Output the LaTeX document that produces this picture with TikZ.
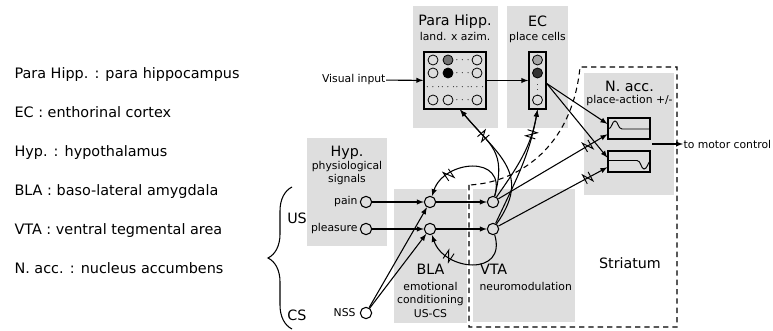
\documentclass[tikz,border=0pt]{standalone}
\usepackage{fontspec}
\setmainfont{DejaVu Sans}
\usepackage{tikz}
\usetikzlibrary{shapes,arrows,calc}
\usetikzlibrary{decorations.markings,decorations.pathreplacing}
\tikzset{
	area/.style     = {fill=black!13, draw=none},
	neuron/.style   = {draw, circle, minimum size=8.5pt, inner sep=0pt},
	cell/.style     = {draw, line width=0.6pt, circle, minimum size=7.5pt, inner sep=0pt},
	matbox/.style   = {draw, line width=1.1pt, rectangle, inner sep=0pt, minimum height=42.75pt},
	curvebox/.style = {draw, line width=0.9pt, rectangle, inner sep=0pt,
		minimum width=31.5pt, minimum height=15.75pt},
	title/.style    = {inner sep=0pt, anchor=base, font=\fontsize{10.7}{12}\selectfont},
	sub/.style      = {inner sep=0pt, font=\fontsize{8.1}{10}\selectfont},
	legend/.style   = {inner sep=0pt, anchor=base west, font=\fontsize{10.8}{13}\selectfont},
	dotz/.style     = {inner sep=0pt, font=\fontsize{7}{7}\selectfont},
	modul/.style    = {postaction={decorate}, decoration={markings,
		mark=at position #1 with {\draw[-, solid, line width=0.7pt]
			(-2.4pt,-3.8pt) -- (-2.4pt,3.8pt) -- (2.4pt,-3.8pt) -- (2.4pt,3.8pt);}}},
	modul/.default  = 0.5
}
\newcommand{\celldots}{$\cdot\cdot\cdot$}

\begin{document}
\begin{tikzpicture}[>=latex, x=0.75pt, y=0.75pt, line width=0.8pt]
	\useasboundingbox (0,0) rectangle (773,-331);
	
	% shaded areas
	\fill[area] (413,-6) rectangle (498,-128);
	\fill[area] (507,-6) rectangle (568,-128);
	\fill[area] (584,-73) rectangle (674,-195);
	\fill[area] (307,-138) rectangle (387,-246);
	\fill[area] (394,-189) rectangle (467,-323);
	\fill[area] (473,-189) rectangle (575,-322);
	
	% striatum
	\draw[dash pattern=on 4pt off 3pt] (469,-185) -- (469,-327) -- (677,-327) -- (677,-67) -- (580,-67)
		.. controls (572,-150) and (515,-183) .. cycle;
	
	% legend
	\draw
	node[legend] (lgPH) at (14,-79) {Para Hipp. : para hippocampus}
	node[legend] (lgEC) at (14,-117.8) {EC : enthorinal cortex}
	node[legend] (lgHyp) at (14,-156.6) {Hyp. : hypothalamus}
	node[legend] (lgBLA) at (14,-195.4) {BLA : baso-lateral amygdala}
	node[legend] (lgVTA) at (14,-234.2) {VTA : ventral tegmental area}
	node[legend] (lgNA) at (14,-273) {N. acc. : nucleus accumbens};
	
	\draw[decorate, decoration={brace, amplitude=18pt}] (292,-329) -- (292,-187);
	
	% titles
	\draw
	node[title] (tPH) at (455,-26) {Para Hipp.}
	node[title, font=\fontsize{8.1}{10}\selectfont] (sPH) at (455,-41) {land. x azim.}
	node[title] (tEC) at (537.5,-26.5) {EC}
	node[title, font=\fontsize{8.1}{10}\selectfont] (sEC) at (537.5,-41) {place cells}
	node[title] (tNA) at (629.5,-92) {N. acc.}
	node[title, font=\fontsize{8.1}{10}\selectfont] (sNA) at (629.5,-104) {place-action +/-}
	node[title] (tHyp) at (347,-157) {Hyp.}
	node[title, font=\fontsize{8.1}{10}\selectfont] (sHyp1) at (347,-170) {physiological}
	node[title, font=\fontsize{8.1}{10}\selectfont] (sHyp2) at (347,-183) {signals}
	node[title] (tBLA) at (430.5,-274) {BLA}
	node[title, font=\fontsize{8.1}{10}\selectfont] (sBLA1) at (430.5,-290) {emotional}
	node[title, font=\fontsize{8.1}{10}\selectfont] (sBLA2) at (430.5,-303.5) {conditioning}
	node[title, font=\fontsize{8.1}{10}\selectfont] (sBLA3) at (430.5,-317) {US-CS}
	node[title, anchor=base west] (tVTA) at (479.5,-274) {VTA}
	node[title, anchor=base west, font=\fontsize{8.1}{10}\selectfont] (sVTA) at (479,-290) {neuromodulation}
	node[title] (tStr) at (630,-268) {Striatum}
	node[title] (tUS) at (297,-223) {US}
	node[title] (tCS) at (297,-320.5) {CS};
	
	% para hippocampus and EC grids
	\draw
	node at (455,-80.5) [matbox, minimum width=46.5pt] (phmat) {}
	node at (537.5,-80.5) [matbox, minimum width=12.75pt] (ecmat) {}
	node at (433,-60) [cell] (c11) {}
	node at (448,-60) [cell, fill=black!55] (c12) {}
	node at (462.5,-60) [dotz] (c13) {\celldots}
	node at (477,-60) [cell] (c14) {}
	node at (433,-73) [cell] (c21) {}
	node at (448,-73) [cell, fill=black] (c22) {}
	node at (462.5,-73) [dotz] (c23) {\celldots}
	node at (477,-73) [cell] (c24) {}
	node at (433,-87) [dotz] (c31) {\celldots}
	node at (448,-87) [dotz] (c32) {\celldots}
	node at (462.5,-87) [dotz] (c33) {\celldots}
	node at (477,-87) [dotz] (c34) {\celldots}
	node at (433,-100) [cell] (c41) {}
	node at (448,-100) [cell] (c42) {}
	node at (462.5,-100) [dotz] (c43) {\celldots}
	node at (477,-100) [cell] (c44) {}
	node at (537.5,-60) [cell, fill=black!35] (e1) {}
	node at (537.5,-73) [cell, fill=black!80] (e2) {}
	node at (537.5,-86.5) [dotz, font=\fontsize{5.5}{5.5}\selectfont] (e3) {$\vdots$}
	node at (537.5,-100) [cell] (e4) {};
	
	% n. acc. units
	\draw
	node at (629,-128.5) [curvebox] (napos) {}
	node at (629,-161.5) [curvebox] (naneg) {};
	\draw[line width=0.7pt] (608,-129) .. controls (612,-129) and (612,-121) .. (615,-121)
		.. controls (618,-121) and (618,-129) .. (622,-129) -- (650,-129);
	\draw[line width=0.7pt] (608,-160.5) -- (637,-160.5) .. controls (641,-160.5) and (641,-169) .. (644,-169)
		.. controls (647,-169) and (648,-163) .. (650,-161);
	
	% neurons
	\draw
	node at (366,-202) [neuron] (pain) {}
	node at (366,-229) [neuron] (pleasure) {}
	node at (366,-313) [neuron] (nss) {}
	node at (430,-202) [neuron] (bla1) {}
	node at (430,-229) [neuron] (bla2) {}
	node at (493,-202) [neuron] (vta1) {}
	node at (493,-229) [neuron] (vta2) {}
	node at (358,-202) [sub, anchor=east] (lpain) {pain}
	node at (358,-229) [sub, anchor=east] (lpleasure) {pleasure}
	node at (356,-313) [sub, anchor=east] (lnss) {NSS}
	node at (386,-80) [sub, anchor=east] (visin) {Visual input}
	node at (683,-144) [sub, anchor=west] (motor) {to motor control};
	\coordinate (nout) at (652,-144);
	
	\draw[->](visin)--(phmat);
	\draw[->](phmat)--(ecmat);
	\draw[->]($(ecmat.east)+(0,-3)$)--(napos.168);
	\draw[->]($(ecmat.east)+(0,-3)$)--(naneg.170);
	\draw[->](nout)--(motor);
	
	\draw[->](pain)--(bla1);
	\draw[->](pleasure)--(bla2);
	\draw[->](nss)--(bla1);
	\draw[->](nss)--(bla2);
	\draw[->](bla1)--(vta1);
	\draw[->](bla2)--(vta2);
	
	\draw[->, modul=0.72](vta1) .. controls +(14,48) and +(14,42) .. (bla1);
	\draw[->, modul=0.72](vta2) .. controls +(14,-48) and +(14,-42) .. (bla2);
	\draw[->, modul=0.82](vta1)--(napos.195);
	\draw[->, modul=0.82](vta2)--(naneg.195);
	\draw[->, modul=0.65](vta1) to[out=75, in=-50, looseness=1.3] (phmat.-80);
	\draw[->](vta2) to[out=55, in=-50, looseness=1.3] (phmat.-80);
	\draw[->, modul=0.74](vta1) to[out=55, in=-100] (ecmat.south);
	\draw[->](vta2) to[out=65, in=-100] (ecmat.south);
	
\end{tikzpicture}
\end{document}
